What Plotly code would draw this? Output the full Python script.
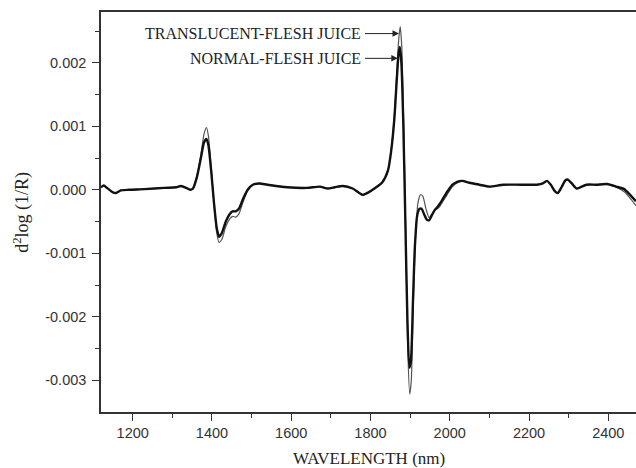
import plotly.graph_objects as go

# Wavelength (nm) and second-derivative values
wl_normal = [1120, 1127, 1135, 1150, 1158, 1170, 1190, 1230, 1280, 1310, 1322, 1335, 1345, 1352,
             1362, 1372, 1380, 1386, 1391, 1398, 1405, 1412, 1418, 1425, 1435, 1445, 1452, 1460,
             1468, 1478, 1490, 1503, 1520, 1540, 1590, 1640, 1672, 1692, 1710, 1730, 1755, 1780,
             1795, 1810, 1830, 1844, 1852, 1860, 1866, 1871, 1874, 1878, 1883, 1888, 1893, 1898,
             1902, 1907, 1912, 1918, 1924, 1929, 1935, 1942, 1948, 1955, 1962, 1968, 1975, 1982,
             1995, 2007, 2020, 2032, 2050, 2075, 2100, 2135, 2180, 2220, 2235, 2245, 2255, 2265,
             2273, 2282, 2292, 2298, 2308, 2320, 2330, 2345, 2370, 2397, 2420, 2440, 2455, 2470]
normal = [0.00004, 0.00007, 0.00003, -0.00004, -0.00005, -0.00001, 0.00000, 0.00001, 0.00003, 0.00004,
          0.00006, 0.00003, 0.00000, 0.00002, 0.00020, 0.00050, 0.00075, 0.00080, 0.00070, 0.00030,
          -0.00020, -0.00060, -0.00074, -0.00068, -0.00050, -0.00038, -0.00034, -0.00034, -0.00030,
          -0.00015, 0.00000, 0.00008, 0.00010, 0.00008, 0.00004, 0.00003, 0.00005, 0.00002, 0.00004,
          0.00006, 0.00002, -0.00008, -0.00004, 0.00002, 0.00012, 0.00030, 0.00060, 0.00110, 0.00170,
          0.00215, 0.00225, 0.00200, 0.00100, -0.00050, -0.00200, -0.00280, -0.00270, -0.00180,
          -0.00090, -0.00040, -0.00030, -0.00030, -0.00038, -0.00047, -0.00048, -0.00040, -0.00032,
          -0.00028, -0.00022, -0.00015, -0.00002, 0.00008, 0.00013, 0.00014, 0.00011, 0.00008,
          0.00005, 0.00008, 0.00008, 0.00008, 0.00010, 0.00014, 0.00008, -0.00002, -0.00005,
          0.00004, 0.00015, 0.00016, 0.00010, 0.00002, 0.00004, 0.00008, 0.00008, 0.00009, 0.00005,
          0.00001, -0.00008, -0.00018]

wl_transl = [1120, 1127, 1135, 1150, 1158, 1170, 1190, 1230, 1280, 1310, 1322, 1335, 1345, 1352,
             1362, 1372, 1380, 1386, 1391, 1398, 1405, 1412, 1418, 1425, 1435, 1445, 1452, 1460,
             1468, 1478, 1490, 1503, 1520, 1540, 1590, 1640, 1672, 1692, 1710, 1730, 1755, 1780,
             1795, 1810, 1830, 1844, 1852, 1860, 1866, 1871, 1875, 1879, 1884, 1889, 1894, 1899,
             1903, 1908, 1914, 1920, 1926, 1932, 1940, 1948, 1955, 1962, 1968, 1975, 1982, 1995,
             2007, 2020, 2032, 2050, 2075, 2100, 2135, 2180, 2220, 2235, 2245, 2255, 2265, 2273,
             2282, 2292, 2298, 2308, 2320, 2330, 2345, 2370, 2397, 2420, 2440, 2455, 2470]
translucent = [0.00004, 0.00007, 0.00003, -0.00004, -0.00005, -0.00001, 0.00000, 0.00001, 0.00003,
               0.00004, 0.00006, 0.00003, 0.00000, 0.00002, 0.00022, 0.00055, 0.00088, 0.00098,
               0.00085, 0.00035, -0.00020, -0.00068, -0.00083, -0.00078, -0.00058, -0.00046,
               -0.00042, -0.00043, -0.00038, -0.00020, -0.00002, 0.00008, 0.00010, 0.00008, 0.00004,
               0.00003, 0.00005, 0.00002, 0.00004, 0.00006, 0.00002, -0.00008, -0.00004, 0.00002,
               0.00012, 0.00030, 0.00062, 0.00115, 0.00180, 0.00235, 0.00257, 0.00225, 0.00100,
               -0.00070, -0.00250, -0.00322, -0.00300, -0.00180, -0.00070, -0.00020, -0.00008,
               -0.00010, -0.00030, -0.00044, -0.00038, -0.00032, -0.00030, -0.00026, -0.00019,
               -0.00006, 0.00005, 0.00011, 0.00013, 0.00011, 0.00008, 0.00005, 0.00008, 0.00008,
               0.00008, 0.00010, 0.00014, 0.00008, -0.00002, -0.00005, 0.00004, 0.00015, 0.00016,
               0.00010, 0.00002, 0.00004, 0.00008, 0.00008, 0.00009, 0.00004, -0.00003, -0.00013,
               -0.00025]

x_ticks = [1200, 1400, 1600, 1800, 2000, 2200, 2400]
y_ticks = [0.002, 0.001, 0.0, -0.001, -0.002, -0.003]
y_labels = ["0.002", "0.001", "0.000", "-0.001", "-0.002", "-0.003"]

label_transl = "TRANSLUCENT-FLESH JUICE"
label_normal = "NORMAL-FLESH JUICE"

fig = go.Figure()
fig.add_trace(go.Scatter(x=wl_transl, y=translucent, mode="lines",
                         line=dict(color="#555555", width=1.2, shape="spline", smoothing=0.6),
                         name=label_transl, showlegend=False))
fig.add_trace(go.Scatter(x=wl_normal, y=normal, mode="lines",
                         line=dict(color="#111111", width=2.4, shape="spline", smoothing=0.6),
                         name=label_normal, showlegend=False))

serif = "Liberation Serif, Times New Roman, serif"
sans = "Liberation Sans, Arial, sans-serif"

annots = [
    dict(x=1781, y=0.00246, xref="x", yref="y", text=label_transl, showarrow=False,
         xanchor="right", yanchor="middle", font=dict(family=serif, size=16, color="#222")),
    dict(x=1781, y=0.00207, xref="x", yref="y", text=label_normal, showarrow=False,
         xanchor="right", yanchor="middle", font=dict(family=serif, size=16, color="#222")),
    dict(x=1872, y=0.00246, ax=1781, ay=0.00246, xref="x", yref="y", axref="x", ayref="y",
         text=" ", showarrow=True, arrowhead=2, arrowsize=1.3, arrowwidth=1, arrowcolor="#222",
         font=dict(size=2)),
    dict(x=1869, y=0.00207, ax=1781, ay=0.00207, xref="x", yref="y", axref="x", ayref="y",
         text=" ", showarrow=True, arrowhead=2, arrowsize=1.3, arrowwidth=1, arrowcolor="#222",
         font=dict(size=2)),
    dict(x=0.5, y=-0.115, xref="paper", yref="paper", text="WAVELENGTH (nm)", showarrow=False,
         xanchor="center", yanchor="middle", font=dict(family=serif, size=17, color="#222")),
    dict(x=-0.148, y=0.5, xref="paper", yref="paper", text="d<sup>2</sup>log (1/R)", showarrow=False,
         textangle=-90, xanchor="center", yanchor="middle",
         font=dict(family=serif, size=18, color="#222")),
]

fig.update_layout(
    width=636, height=468,
    margin=dict(l=101, r=0, t=12, b=56),
    paper_bgcolor="white", plot_bgcolor="white",
    annotations=annots,
    showlegend=False,
)
fig.update_xaxes(range=[1120, 2470], tickvals=x_ticks, ticks="outside", ticklen=7, tickwidth=1.3,
                 tickcolor="#333", showline=True, linecolor="#333", linewidth=1.5, mirror=True,
                 showgrid=False, zeroline=False,
                 tickfont=dict(family=sans, size=14.5, color="#333"),
                 minor=dict(tickvals=[1300, 1500, 1700, 1900, 2100, 2300], ticks="outside",
                            ticklen=4, tickcolor="#333", tickwidth=1.3))
fig.update_yaxes(range=[-0.0035, 0.0028], tickvals=y_ticks, ticktext=y_labels, ticks="outside",
                 ticklen=7, tickwidth=1.3, tickcolor="#333", showline=True, linecolor="#333",
                 linewidth=1.5, showgrid=False, zeroline=False, ticklabelstandoff=3,
                 tickfont=dict(family=sans, size=14.5, color="#333"),
                 minor=dict(tickvals=[0.0025, 0.0015, 0.0005, -0.0005, -0.0015, -0.0025],
                            ticks="outside", ticklen=4, tickcolor="#333", tickwidth=1.3))

fig.write_html("out.html")
